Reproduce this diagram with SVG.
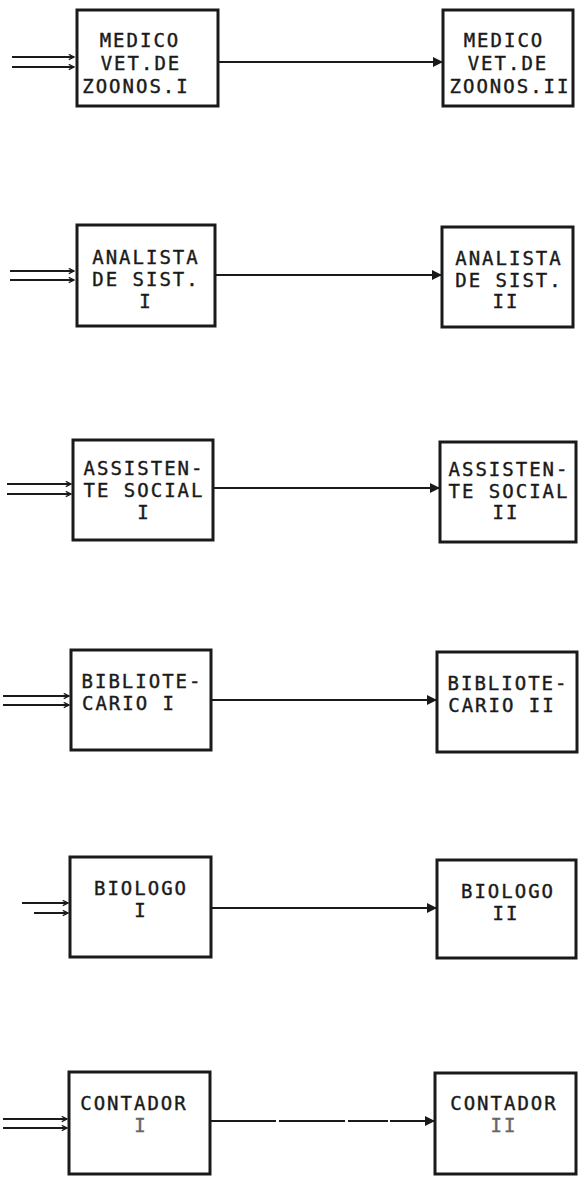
<svg xmlns="http://www.w3.org/2000/svg" width="583" height="1177" viewBox="0 0 583 1177">
<style>
.box{fill:none;stroke:#1a1a1a;stroke-width:3}
.lbl{font-family:"DejaVu Sans Mono","Liberation Mono",monospace;font-size:19px;letter-spacing:2px;fill:#1a1a1a;stroke:#1a1a1a;stroke-width:0.4;text-anchor:middle}
.faint{fill:#666;stroke:#666}
.link{stroke:#1a1a1a;stroke-width:2;fill:none;marker-end:url(#ah)}
.in{stroke:#1a1a1a;stroke-width:2;fill:none;marker-end:url(#oh)}
</style>
<defs>
<marker id="ah" viewBox="0 0 10 10" refX="10" refY="5" markerWidth="10" markerHeight="10" markerUnits="userSpaceOnUse" orient="auto">
<path d="M0,0 L10,5 L0,10 Z" fill="#1a1a1a"/>
</marker>
<marker id="oh" viewBox="0 0 8 8" refX="7" refY="4" markerWidth="7" markerHeight="7" markerUnits="userSpaceOnUse" orient="auto">
<path d="M1,1 L7,4 L1,7" fill="none" stroke="#1a1a1a" stroke-width="1.5"/>
</marker>
</defs>
<rect width="583" height="1177" fill="#fff"/>

<g id="connectors">
<line class="in" x1="12" y1="57" x2="74" y2="57"/>
<line class="in" x1="12" y1="67" x2="74" y2="67"/>
<line class="link" x1="218" y1="62" x2="443" y2="62"/>

<line class="in" x1="10" y1="271" x2="74" y2="271"/>
<line class="in" x1="10" y1="280" x2="74" y2="280"/>
<line class="link" x1="215" y1="275" x2="442" y2="275"/>

<line class="in" x1="7" y1="484" x2="71" y2="484"/>
<line class="in" x1="7" y1="494" x2="71" y2="494"/>
<line class="link" x1="213" y1="488" x2="440" y2="488"/>

<line class="in" x1="3" y1="696" x2="69" y2="696"/>
<line class="in" x1="3" y1="705" x2="69" y2="705"/>
<line class="link" x1="211" y1="700" x2="437" y2="700"/>

<line class="in" x1="22" y1="903" x2="68" y2="903"/>
<line class="in" x1="34" y1="913" x2="68" y2="913"/>
<line class="link" x1="211" y1="908" x2="437" y2="908"/>

<line class="in" x1="3" y1="1119" x2="67" y2="1119"/>
<line class="in" x1="3" y1="1128" x2="67" y2="1128"/>
<line class="link" x1="210" y1="1121" x2="435" y2="1121" stroke-dasharray="66 3 66 3 40 2"/>
</g>

<g id="n1a">
<rect class="box" x="77" y="10" width="141" height="96"/>
<text class="lbl" x="140" y="47">MEDICO</text>
<text class="lbl" x="141" y="70">VET.DE</text>
<text class="lbl" x="136" y="93">ZOONOS.I</text>
</g>
<g id="n1b">
<rect class="box" x="443" y="10" width="130" height="96"/>
<text class="lbl" x="504" y="47">MEDICO</text>
<text class="lbl" x="508" y="70">VET.DE</text>
<text class="lbl" x="510" y="93">ZOONOS.II</text>
</g>

<g id="n2a">
<rect class="box" x="77" y="225" width="138" height="101"/>
<text class="lbl" x="146" y="264">ANALISTA</text>
<text class="lbl" x="146" y="286">DE SIST.</text>
<text class="lbl" x="146" y="308">I</text>
</g>
<g id="n2b">
<rect class="box" x="442" y="227" width="131" height="100"/>
<text class="lbl" x="509" y="265">ANALISTA</text>
<text class="lbl" x="509" y="287">DE SIST.</text>
<text class="lbl" x="506" y="308">II</text>
</g>

<g id="n3a">
<rect class="box" x="73" y="440" width="140" height="100"/>
<text class="lbl" x="144" y="475">ASSISTEN-</text>
<text class="lbl" x="144" y="497">TE SOCIAL</text>
<text class="lbl" x="144" y="519">I</text>
</g>
<g id="n3b">
<rect class="box" x="440" y="442" width="136" height="100"/>
<text class="lbl" x="509" y="476">ASSISTEN-</text>
<text class="lbl" x="509" y="498">TE SOCIAL</text>
<text class="lbl" x="506" y="519">II</text>
</g>

<g id="n4a">
<rect class="box" x="71" y="650" width="140" height="100"/>
<text class="lbl" x="142" y="688">BIBLIOTE-</text>
<text class="lbl" x="129" y="710">CARIO I</text>
</g>
<g id="n4b">
<rect class="box" x="437" y="652" width="140" height="100"/>
<text class="lbl" x="508" y="690">BIBLIOTE-</text>
<text class="lbl" x="502" y="712">CARIO II</text>
</g>

<g id="n5a">
<rect class="box" x="70" y="857" width="141" height="100"/>
<text class="lbl" x="141" y="895">BIOLOGO</text>
<text class="lbl" x="141" y="917">I</text>
</g>
<g id="n5b">
<rect class="box" x="437" y="860" width="139" height="98"/>
<text class="lbl" x="508" y="898">BIOLOGO</text>
<text class="lbl" x="506" y="920">II</text>
</g>

<g id="n6a">
<rect class="box" x="69" y="1072" width="141" height="102"/>
<text class="lbl" x="134" y="1110">CONTADOR</text>
<text class="lbl faint" x="141" y="1132">I</text>
</g>
<g id="n6b">
<rect class="box" x="435" y="1073" width="141" height="101"/>
<text class="lbl" x="504" y="1110">CONTADOR</text>
<text class="lbl faint" x="504" y="1132">II</text>
</g>
</svg>
